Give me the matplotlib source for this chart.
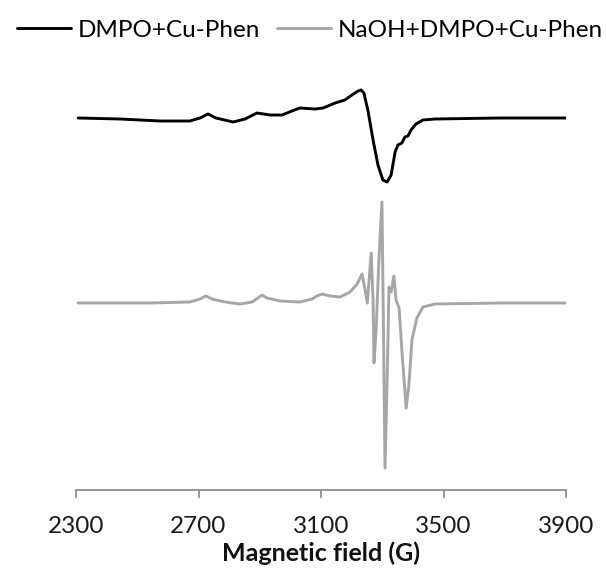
import matplotlib
matplotlib.use("Agg")
import matplotlib.pyplot as plt

plt.rcParams['font.family'] = ['Lato', 'DejaVu Sans']

# Series 1: DMPO+Cu-Phen (field in G, intensity in arbitrary units, stacked offset included)
field_1 = [2307, 2444, 2574, 2672, 2705, 2731, 2757, 2813, 2852, 2891, 2934, 2973,
           3005, 3031, 3080, 3107, 3146, 3178, 3201, 3221, 3231, 3240, 3253, 3270,
           3286, 3302, 3316, 3329, 3342, 3351, 3364, 3374, 3384, 3394, 3410, 3433,
           3472, 3685, 3900]
signal_1 = [372, 371, 369, 369, 372, 376, 372, 368, 371, 377, 375, 375,
            379, 382, 381, 382, 387, 390, 395, 399, 400, 397, 380, 350,
            325, 310, 308, 315, 338, 345, 347, 353, 354, 360, 366, 370,
            371, 372, 372]

# Series 2: NaOH+DMPO+Cu-Phen
field_2 = [2307, 2542, 2672, 2705, 2724, 2744, 2787, 2836, 2875, 2894, 2907, 2924,
           2966, 3031, 3071, 3087, 3103, 3129, 3162, 3195, 3218, 3234, 3244, 3251,
           3257, 3264, 3270, 3273, 3280, 3289, 3299, 3304, 3309, 3316, 3322, 3329,
           3338, 3345, 3355, 3364, 3378, 3387, 3397, 3413, 3433, 3472, 3685, 3900]
signal_2 = [187, 187, 188, 191, 194, 191, 188, 186, 188, 192, 195, 192,
            189, 188, 191, 194, 196, 194, 193, 198, 206, 216, 200, 187,
            210, 237, 190, 127, 160, 230, 288, 160, 22, 110, 203, 198,
            214, 190, 182, 140, 82, 105, 150, 172, 183, 186, 187, 187]

labels = ["DMPO+Cu-Phen", "NaOH+DMPO+Cu-Phen"]
xticks = [2300, 2700, 3100, 3500, 3900]

fig = plt.figure(figsize=(6.06, 5.72), dpi=100)
ax = fig.add_axes([76/606, 82/572, 490/606, 430/572])

ax.plot(field_1, signal_1, color='black', lw=2.1, label=labels[0],
        solid_joinstyle='round', solid_capstyle='round')
ax.plot(field_2, signal_2, color='#a6a6a6', lw=2.1, label=labels[1],
        solid_joinstyle='round', solid_capstyle='round')

ax.set_xlim(2300, 3900)
ax.set_ylim(0, 430)
for s in ['left', 'right', 'top']:
    ax.spines[s].set_visible(False)
ax.spines['bottom'].set_color('#868686')
ax.spines['bottom'].set_linewidth(1.2)
ax.set_yticks([])
ax.set_xticks(xticks)
ax.set_xticklabels([str(t) for t in xticks])
ax.tick_params(axis='x', direction='out', length=6, width=1.2, color='#868686',
               labelsize=17.5, pad=13, labelcolor='#1a1a1a')
ax.set_xlabel("Magnetic field (G)", fontsize=18, fontweight='bold', labelpad=3, color='#111111')

fig.legend(loc='center', bbox_to_anchor=(0.512, 0.947), ncol=2, frameon=False,
           fontsize=17.5, handlelength=2.2, handletextpad=0.3, columnspacing=0.7)

fig.savefig("out.png", dpi=100)
